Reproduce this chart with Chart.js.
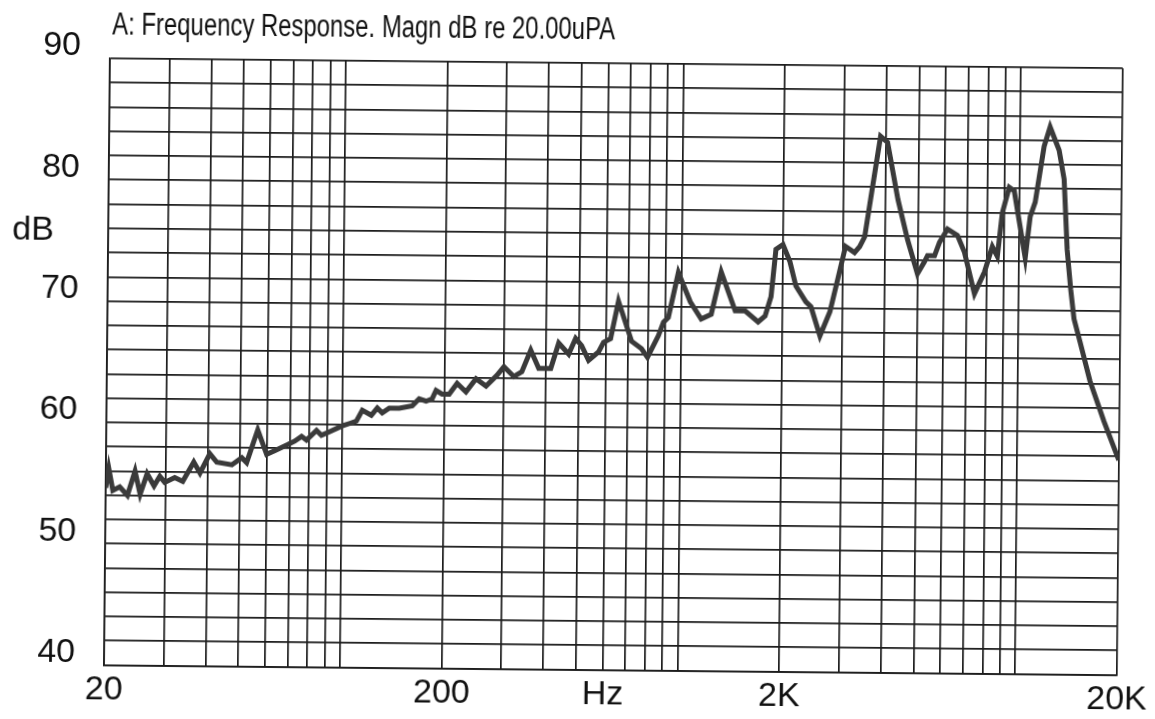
<!DOCTYPE html>
<html>
<head>
<meta charset="utf-8">
<title>Frequency Response</title>
<script src="https://cdn.jsdelivr.net/npm/chart.js@4.4.1/dist/chart.umd.min.js"></script>
<style>
  html, body { margin: 0; padding: 0; background: #fff; }
  #wrap { width: 1155px; height: 719px; overflow: hidden; }
  /* the source is a slightly tilted scan */
  #chart { transform: rotate(0.56deg); transform-origin: 50% 50%; }
</style>
</head>
<body>
<div id="wrap"><canvas id="chart" width="1155" height="719"></canvas></div>
<script>
const freqHz = [
  20, 20.4, 21.0, 22.0, 23.2, 24.4, 25.3, 26.5, 27.8, 28.9,
  29.9, 32.0, 33.8, 36.4, 38.0, 40.6, 42.6, 47.2, 50.5, 52.2,
  56.2, 59.8, 63.1, 68.9, 72.3, 75.8, 78.4, 83.9, 86.8, 91.6,
  100, 105, 110, 114.5, 121.8, 126.8, 131.2, 137.6, 147.3, 160.9,
  168.6, 176.8, 184.2, 189.1, 197.1, 206.8, 218.2, 231.9, 248.1, 265.8,
  286.2, 300, 321.2, 338.9, 359.8, 380.4, 412.8, 435.2, 466.1, 488.2,
  508.9, 534.1, 571.6, 591, 619.6, 652.4, 715.3, 765.5, 797.9, 858.6,
  887.8, 917.7, 979.6, 1065, 1148, 1229, 1312, 1447, 1549, 1693,
  1775, 1846, 1903, 1996, 2095, 2185, 2342, 2425, 2583, 2761,
  2907, 3058, 3253, 3368, 3482, 3617, 3856, 4046, 4359, 4667,
  5002, 5245, 5353, 5614, 5803, 6124, 6555, 6885, 7389, 7899,
  8323, 8617, 8891, 9305, 9632, 10422, 10753, 11118, 11772, 12248,
  13043, 13522, 13870, 14250, 14598, 15237, 16345, 18023, 20000
];
const levelDb = [
  54.6, 56.2, 54.4, 54.7, 54.0, 56.0, 54.1, 55.8, 54.8, 55.6,
  55.1, 55.5, 55.2, 56.8, 55.9, 57.5, 56.8, 56.6, 57.2, 56.8,
  59.5, 57.5, 57.8, 58.3, 58.6, 59.0, 58.7, 59.5, 59.1, 59.4,
  59.9, 60.1, 60.3, 61.2, 60.8, 61.4, 61.0, 61.4, 61.4, 61.6,
  62.2, 62.0, 62.2, 62.9, 62.6, 62.6, 63.5, 62.8, 63.9, 63.3,
  64.2, 64.9, 64.1, 64.5, 66.3, 64.8, 64.8, 66.9, 66.0, 67.3,
  66.7, 65.5, 66.2, 67.0, 67.3, 70.4, 67.1, 66.5, 65.8, 67.6,
  68.7, 69.1, 72.8, 70.4, 69.0, 69.4, 72.9, 69.7, 69.7, 68.8,
  69.3, 70.9, 74.8, 75.2, 73.8, 71.8, 70.5, 70.1, 67.7, 69.7,
  72.4, 75.1, 74.6, 75.1, 75.9, 79.0, 84.2, 83.7, 79.0, 75.7,
  72.9, 73.9, 74.4, 74.4, 75.5, 76.6, 76.1, 74.7, 71.3, 73.1,
  75.2, 74.4, 78.0, 80.1, 79.8, 74.3, 77.7, 78.9, 83.5, 85.1,
  83.2, 80.8, 75.0, 71.7, 69.3, 67.4, 64.2, 60.9, 57.7
];

// Axis ticks / labels
const xGridHz = [20, 30, 40, 50, 60, 70, 80, 90,
  100, 200, 300, 400, 500, 600, 700, 800, 900,
  1000, 2000, 3000, 4000, 5000, 6000, 7000, 8000, 9000,
  10000, 20000];
const xTickText = { 20: '20', 200: '200', 600: 'Hz', 2000: '2K', 20000: '20K' };
const yTickText = [40, 50, 60, 70, 80, 90];
const titleText = 'A: Frequency Response. Magn dB re 20.00uPA';
const yUnit = 'dB';

const ink = '#111';
const gridInk = '#1c1c1c';
const tickFont = { family: '"Liberation Sans", Arial, sans-serif', size: 34 };

const textPlugin = {
  id: 'scanText',
  afterDraw(chart) {
    const ctx = chart.ctx;
    ctx.save();
    ctx.fillStyle = ink;
    // title, narrow face squeezed to the width of the original
    ctx.font = '31px "Liberation Sans Narrow", "Liberation Sans", Arial, sans-serif';
    ctx.textAlign = 'left';
    ctx.textBaseline = 'alphabetic';
    const w = ctx.measureText(titleText).width;
    ctx.translate(109, 38.5);
    ctx.scale(503 / w, 1);
    ctx.fillText(titleText, 0, 0);
    ctx.restore();

    ctx.save();
    ctx.fillStyle = ink;
    ctx.font = '34px "Liberation Sans", Arial, sans-serif';
    ctx.textAlign = 'left';
    ctx.textBaseline = 'alphabetic';
    ctx.fillText(yUnit, 11, chart.scales.y.getPixelForValue(75));
    ctx.restore();
  }
};

new Chart(document.getElementById('chart'), {
  type: 'line',
  data: {
    datasets: [{
      data: freqHz.map((f, i) => ({ x: f, y: levelDb[i] })),
      borderColor: '#3a3a3a',
      borderWidth: 5,
      pointRadius: 0,
      tension: 0,
      fill: false
    }]
  },
  options: {
    responsive: false,
    animation: false,
    layout: { padding: { left: 0, top: 63, right: 32, bottom: 0 } },
    plugins: { legend: { display: false }, tooltip: { enabled: false } },
    scales: {
      x: {
        type: 'logarithmic',
        min: 20,
        max: 20000,
        afterBuildTicks: (scale) => { scale.ticks = xGridHz.map(v => ({ value: v })); },
        afterFit: (scale) => { scale.height = 46; },
        grid: { color: gridInk, lineWidth: 1.7, drawTicks: false },
        border: { display: true, color: gridInk, width: 1.7 },
        ticks: {
          autoSkip: false,
          maxRotation: 0,
          padding: 5,
          color: ink,
          font: tickFont,
          callback: (v) => xTickText[v] || ''
        }
      },
      y: {
        min: 40,
        max: 90,
        afterFit: (scale) => { scale.width = 107; },
        grid: { color: gridInk, lineWidth: 1.7, drawTicks: false },
        border: { display: true, color: gridInk, width: 1.7 },
        ticks: {
          stepSize: 2,
          autoSkip: false,
          padding: 29,
          labelOffset: -12,
          color: ink,
          font: tickFont,
          callback: (v) => yTickText.includes(v) ? String(v) : ''
        }
      }
    }
  },
  plugins: [textPlugin]
});
</script>
</body>
</html>
